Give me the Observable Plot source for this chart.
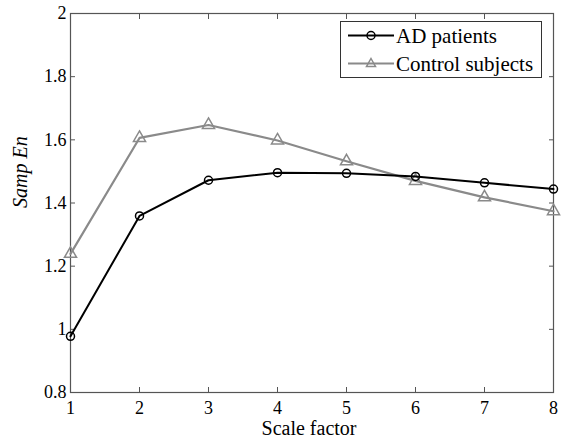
<!DOCTYPE html>
<html>
<head>
<meta charset="utf-8">
<script src="https://cdn.jsdelivr.net/npm/d3@7"></script>
<script src="https://cdn.jsdelivr.net/npm/@observablehq/plot@0.6"></script>
<style>
  html, body { margin: 0; padding: 0; background: #fff; }
  #wrap { position: relative; width: 567px; height: 443px; }
  #legend { position: absolute; left: 340px; top: 21px; width: 202px; height: 57px;
    border: 1px solid #333; background: #fff; box-sizing: border-box; }
</style>
</head>
<body>
<div id="wrap"></div>
<script>
const scaleFactors = [1, 2, 3, 4, 5, 6, 7, 8];
const adPatients = [0.978, 1.359, 1.472, 1.496, 1.494, 1.484, 1.464, 1.444];
const controlSubjects = [1.239, 1.606, 1.647, 1.598, 1.532, 1.470, 1.418, 1.374];
const seriesNames = ["AD patients", "Control subjects"];
const xTicks = [1, 2, 3, 4, 5, 6, 7, 8];
const yTicks = [0.8, 1, 1.2, 1.4, 1.6, 1.8, 2];

const rows = [];
scaleFactors.forEach((s, i) => {
  rows.push({series: seriesNames[0], x: s, y: adPatients[i]});
  rows.push({series: seriesNames[1], x: s, y: controlSubjects[i]});
});
const ad = rows.filter(d => d.series === seriesNames[0]);
const ctl = rows.filter(d => d.series === seriesNames[1]);

const FONT = "Liberation Serif";
const axisColor = "#555";
const grayColor = "#8a8a8a";
const fmt = d => String(d);

const chart = Plot.plot({
  width: 567,
  height: 443,
  marginLeft: 70,
  marginRight: 14,
  marginTop: 13,
  marginBottom: 51,
  style: {fontFamily: FONT, fontSize: "18px", color: "#000", background: "#fff"},
  x: {domain: [1, 8]},
  y: {domain: [0.8, 2]},
  marks: [
    Plot.axisX(xTicks, {anchor: "bottom", tickSize: 5, dy: -5, tickFormat: () => "", stroke: axisColor, label: null}),
    Plot.axisX(xTicks, {anchor: "top", tickSize: 5, dy: 5, tickFormat: () => "", stroke: axisColor, label: null}),
    Plot.axisY(yTicks, {anchor: "left", tickSize: 5, dx: 5, tickFormat: () => "", stroke: axisColor, label: null}),
    Plot.axisY(yTicks, {anchor: "right", tickSize: 5, dx: -5, tickFormat: () => "", stroke: axisColor, label: null}),
    Plot.axisX(xTicks, {anchor: "bottom", tickSize: 0, tickPadding: 9, tickFormat: fmt, fill: "#000", fontSize: 18, fontFamily: FONT, label: null}),
    Plot.text(["Scale factor"], {frameAnchor: "bottom", dx: -3, dy: 42, fontSize: 20, fontFamily: FONT, fill: "#000"}),
    Plot.axisY(yTicks, {anchor: "left", tickSize: 0, tickPadding: 4, tickFormat: fmt, fill: "#000", fontSize: 18, fontFamily: FONT, label: null}),
    Plot.text(["Samp En"], {frameAnchor: "left", dx: -50, dy: 5, rotate: -90, fontStyle: "italic", fontSize: 20, fontFamily: FONT, fill: "#000"}),
    Plot.frame({stroke: axisColor, strokeWidth: 1.2}),
    Plot.line(ctl, {x: "x", y: "y", stroke: grayColor, strokeWidth: 2.2}),
    Plot.dot(ctl, {x: "x", y: "y", symbol: "triangle", r: 4.5, stroke: grayColor, strokeWidth: 1.5, fill: "none"}),
    Plot.line(ad, {x: "x", y: "y", stroke: "#000", strokeWidth: 2}),
    Plot.dot(ad, {x: "x", y: "y", symbol: "circle", r: 4, stroke: "#000", strokeWidth: 1.5, fill: "none"})
  ]
});

d3.select(chart).selectAll("text").attr("font-family", FONT);

const wrap = document.getElementById("wrap");
wrap.appendChild(chart);

const leg = document.createElement("div");
leg.id = "legend";
leg.innerHTML = `<svg width="200" height="55" style="position:absolute;left:0;top:0">
  <line x1="7" x2="53" y1="13.5" y2="13.5" stroke="#000" stroke-width="2"/>
  <circle cx="30" cy="13.5" r="4" fill="none" stroke="#000" stroke-width="1.5"/>
  <text x="55" y="20.5" font-family="${FONT}" font-size="21" fill="#000">${seriesNames[0]}</text>
  <line x1="7" x2="53" y1="41.5" y2="41.5" stroke="${grayColor}" stroke-width="2"/>
  <path d="M30,36.5 L34.5,44.5 L25.5,44.5 Z" fill="none" stroke="${grayColor}" stroke-width="1.5"/>
  <text x="55" y="48.5" font-family="${FONT}" font-size="21" fill="#000">${seriesNames[1]}</text>
</svg>`;
wrap.appendChild(leg);
</script>
</body>
</html>
